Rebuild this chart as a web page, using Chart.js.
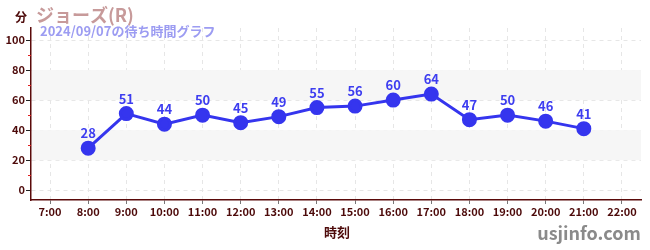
<!DOCTYPE html>
<html>
<head>
<meta charset="utf-8">
<script src="https://cdn.jsdelivr.net/npm/chart.js@4"></script>
<style>
  html, body { margin: 0; padding: 0; background: #fff; }
  #wrap { width: 650px; height: 250px; position: relative; }
</style>
</head>
<body>
<div id="wrap"><canvas id="myChart" width="650" height="250"></canvas></div>
<script>
// data
const hours = [8, 9, 10, 11, 12, 13, 14, 15, 16, 17, 18, 19, 20, 21];
const waits = [28, 51, 44, 50, 45, 49, 55, 56, 60, 64, 47, 50, 46, 41];
const xTicks = [7, 8, 9, 10, 11, 12, 13, 14, 15, 16, 17, 18, 19, 20, 21, 22];
const yTicks = [0, 20, 40, 60, 80, 100];
const yMinor = [10, 30, 50, 70, 90];
const bands = [[20, 40], [60, 80]];

const FONT = '"Noto Sans CJK JP", "Noto Sans", sans-serif';
const DARK = '#4d0a0a';

// grey bands, minor ticks and all the loose texts
const extras = {
  id: 'extras',
  beforeDatasetsDraw(chart) {
    const { ctx, chartArea: a, scales: { y } } = chart;
    ctx.save();
    ctx.fillStyle = '#f6f6f6';
    bands.forEach(([lo, hi]) => {
      const top = y.getPixelForValue(hi), bot = y.getPixelForValue(lo);
      ctx.fillRect(a.left + 1, top, a.right - a.left - 1, bot - top);
    });
    ctx.restore();
  },
  afterDatasetsDraw(chart) {
    const { ctx, chartArea: a, scales: { x, y } } = chart;
    ctx.save();
    // minor y ticks
    ctx.strokeStyle = '#e02020';
    ctx.lineWidth = 1;
    yMinor.forEach(v => {
      const py = Math.round(y.getPixelForValue(v)) + 0.5;
      ctx.beginPath();
      ctx.moveTo(a.left - 3, py);
      ctx.lineTo(a.left, py);
      ctx.stroke();
    });
    // value labels
    ctx.fillStyle = '#3d3df0';
    ctx.font = 'bold 13px ' + FONT;
    ctx.textAlign = 'center';
    ctx.textBaseline = 'middle';
    hours.forEach((h, i) => {
      ctx.fillText(String(waits[i]), x.getPixelForValue(h), y.getPixelForValue(waits[i]) - 15);
    });
    // titles
    ctx.textAlign = 'left';
    ctx.fillStyle = '#c79a9a';
    ctx.font = 'bold 18px ' + FONT;
    ctx.fillText('ジョーズ(R)', 36, 15);
    ctx.fillStyle = DARK;
    ctx.font = 'bold 12px ' + FONT;
    ctx.fillText('分', 15, 17);
    ctx.fillStyle = '#9c9cf2';
    ctx.font = 'bold 13px ' + FONT;
    ctx.fillText('2024/09/07の待ち時間グラフ', 40, 31);
    ctx.textAlign = 'center';
    ctx.fillStyle = DARK;
    ctx.font = 'bold 13px ' + FONT;
    ctx.fillText('時刻', 337, 232);
    ctx.fillStyle = '#8a8a8a';
    ctx.font = 'bold 18px ' + FONT;
    ctx.fillText('usjinfo.com', 589, 233);
    ctx.restore();
  }
};

const ctx = document.getElementById('myChart').getContext('2d');
new Chart(ctx, {
  type: 'line',
  data: {
    datasets: [{
      data: hours.map((h, i) => ({ x: h, y: waits[i] })),
      borderColor: '#3535ee',
      backgroundColor: '#3535ee',
      borderWidth: 3,
      pointRadius: 6,
      pointHoverRadius: 6,
      tension: 0
    }]
  },
  options: {
    responsive: false,
    animation: false,
    events: [],
    layout: { padding: { top: 28, right: 9, left: 0, bottom: 0 } },
    plugins: { legend: { display: false }, tooltip: { enabled: false } },
    scales: {
      x: {
        type: 'linear',
        min: 6.5,
        max: 22.5,
        afterBuildTicks: s => { s.ticks = xTicks.map(v => ({ value: v })); },
        afterFit: s => { s.height = 50; },
        border: { color: '#5a0a0a', width: 1.5, dash: [4, 4] },
        grid: { color: '#e6e6e6', tickColor: '#777', tickLength: 4, tickBorderDash: [] },
        ticks: {
          color: DARK,
          font: { family: FONT, size: 11, weight: 'bold' },
          padding: 1,
          maxRotation: 0,
          callback: v => v + ':00'
        }
      },
      y: {
        min: -6.5,
        max: 108,
        afterBuildTicks: s => { s.ticks = yTicks.map(v => ({ value: v })); },
        afterFit: s => { s.width = 31; },
        border: { color: '#5a0a0a', width: 1.5, dash: [4, 4] },
        grid: { color: '#e6e6e6', tickColor: '#222', tickLength: 5, tickBorderDash: [] },
        ticks: {
          color: DARK,
          font: { family: FONT, size: 11, weight: 'bold' },
          padding: 1
        }
      }
    }
  },
  plugins: [extras]
});
</script>
</body>
</html>
